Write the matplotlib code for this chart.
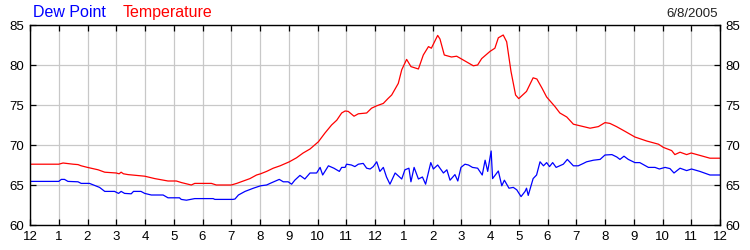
import matplotlib
matplotlib.use("Agg")
import matplotlib.pyplot as plt

# hours since midnight and readings (deg F) for 6/8/2005
temp_hours = [0, 1.0, 1.15, 1.5, 1.67, 1.78, 2.0, 2.37, 2.6, 3.0, 3.1, 3.17, 3.25, 3.41,
              3.99, 4.34, 4.8, 5.09, 5.27, 5.61, 5.73, 6.31, 6.48, 7.0, 7.19, 7.42, 7.65,
              7.88, 8.02, 8.23, 8.46, 8.7, 9.02, 9.27, 9.5, 9.74, 10.03, 10.26, 10.49,
              10.67, 10.84, 10.96, 11.07, 11.27, 11.42, 11.71, 11.88, 12.06, 12.29, 12.45,
              12.58, 12.81, 12.93, 13.1, 13.25, 13.51, 13.68, 13.86, 13.96, 14.18, 14.26,
              14.41, 14.66, 14.84, 15.13, 15.42, 15.57, 15.71, 16.0, 16.17, 16.29, 16.46,
              16.58, 16.73, 16.89, 17.0, 17.27, 17.5, 17.63, 17.81, 17.97, 18.26, 18.43,
              18.67, 18.9, 19.25, 19.48, 19.77, 20.0, 20.17, 20.4, 20.7, 21.04, 21.45,
              21.86, 22.03, 22.32, 22.43, 22.61, 22.84, 23.0, 23.3, 23.65, 24.0]
temp_vals = [67.6, 67.6, 67.75, 67.6, 67.55, 67.4, 67.2, 66.9, 66.6, 66.5, 66.4, 66.6, 66.4, 66.3,
             66.1, 65.8, 65.5, 65.5, 65.3, 65.0, 65.2, 65.2, 65.0, 65.0, 65.2, 65.5, 65.8,
             66.25, 66.4, 66.7, 67.1, 67.4, 67.9, 68.4, 69.0, 69.5, 70.4, 71.5, 72.5,
             73.1, 74.0, 74.25, 74.2, 73.6, 73.9, 74.0, 74.6, 74.9, 75.2, 75.8,
             76.25, 77.7, 79.4, 80.7, 79.8, 79.5, 81.25, 82.3, 82.1, 83.7, 83.25,
             81.25, 81.0, 81.1, 80.5, 79.9, 80.0, 80.8, 81.7, 82.1, 83.4, 83.75,
             82.9, 79.2, 76.25, 75.8, 76.7, 78.4, 78.25, 77.1, 76.0, 74.8, 74.0,
             73.5, 72.6, 72.3, 72.1, 72.3, 72.8, 72.7, 72.3, 71.7, 71.0, 70.5,
             70.1, 69.7, 69.3, 68.8, 69.1, 68.8, 69.0, 68.7, 68.35, 68.35]

dew_hours = [0, 1.0, 1.09, 1.2, 1.32, 1.67, 1.78, 2.07, 2.25, 2.42, 2.6, 2.94, 3.08, 3.17,
             3.29, 3.52, 3.6, 3.86, 3.99, 4.22, 4.63, 4.8, 5.2, 5.26, 5.44, 5.73, 6.37,
             6.43, 7.06, 7.13, 7.25, 7.48, 7.77, 8.02, 8.23, 8.35, 8.67, 8.81, 8.98, 9.1,
             9.21, 9.39, 9.56, 9.74, 9.97, 10.09, 10.18, 10.38, 10.57, 10.76, 10.84, 10.96,
             11.01, 11.18, 11.3, 11.42, 11.59, 11.71, 11.83, 11.94, 12.06, 12.17, 12.29,
             12.4, 12.52, 12.7, 12.93, 13.04, 13.18, 13.25, 13.36, 13.51, 13.65, 13.76,
             13.94, 14.03, 14.18, 14.38, 14.5, 14.61, 14.78, 14.88, 14.99, 15.13, 15.25,
             15.39, 15.57, 15.73, 15.83, 15.92, 16.04, 16.09, 16.29, 16.41, 16.5, 16.66,
             16.81, 16.93, 17.08, 17.22, 17.27, 17.33, 17.5, 17.62, 17.74, 17.86, 17.97,
             18.07, 18.18, 18.3, 18.55, 18.69, 18.9, 19.07, 19.25, 19.36, 19.6, 19.83,
             20.0, 20.24, 20.41, 20.52, 20.66, 20.81, 21.04, 21.21, 21.51, 21.74, 21.89,
             22.09, 22.26, 22.4, 22.61, 22.84, 23.01, 23.3, 23.65, 24.0]
dew_vals = [65.45, 65.45, 65.7, 65.7, 65.45, 65.4, 65.2, 65.2, 64.95, 64.7, 64.2, 64.2, 63.95, 64.2,
            63.95, 63.9, 64.2, 64.2, 63.95, 63.75, 63.75, 63.4, 63.4, 63.2, 63.1, 63.3, 63.3,
            63.2, 63.2, 63.25, 63.75, 64.2, 64.6, 64.9, 65.0, 65.2, 65.7, 65.4, 65.4, 65.1,
            65.6, 66.2, 65.75, 66.5, 66.5, 67.2, 66.25, 67.4, 67.1, 66.7, 67.2, 67.2,
            67.6, 67.5, 67.3, 67.6, 67.7, 67.1, 67.0, 67.3, 67.9, 66.7, 67.2,
            66.0, 65.1, 66.5, 65.75, 66.9, 67.1, 65.4, 67.2, 65.75, 66.0, 65.1,
            67.8, 67.0, 67.5, 66.5, 66.9, 65.6, 66.3, 65.5, 67.2, 67.6, 67.5,
            67.2, 67.1, 66.25, 68.1, 66.7, 69.25, 65.8, 66.75, 64.9, 65.6, 64.6,
            64.7, 64.4, 63.55, 64.2, 64.6, 63.7, 65.8, 66.25, 67.9, 67.4, 67.8,
            67.3, 67.8, 67.2, 67.6, 68.2, 67.4, 67.4, 67.7, 67.9, 68.1, 68.2,
            68.75, 68.8, 68.5, 68.2, 68.6, 68.2, 67.8, 67.8, 67.2, 67.2, 67.0,
            67.2, 67.05, 66.5, 67.1, 66.8, 67.0, 66.7, 66.25, 66.25]

hour_labels = ["12"] + [str(i) for i in range(1, 12)] + ["12"] + [str(i) for i in range(1, 12)] + ["12"]
date_text = "6/8/2005"

plt.rcParams["font.family"] = ["Liberation Sans", "DejaVu Sans"]

fig = plt.figure(figsize=(7.5, 2.5), dpi=100)
ax = fig.add_axes([0.04, 0.1, 0.92, 0.8])

ax.plot(temp_hours, temp_vals, color="#ff0000", lw=0.9)
ax.plot(dew_hours, dew_vals, color="#0000ff", lw=0.9)

ax.set_xlim(0, 24)
ax.set_ylim(60, 85)
ax.set_xticks(range(25))
ax.set_xticklabels(hour_labels)
ax.set_yticks([60, 65, 70, 75, 80, 85])
ax.grid(True, color="#c8c8c8", lw=0.9)
ax.set_axisbelow(True)
ax.tick_params(direction="in", length=4, width=0.9, top=True, right=True,
               labelright=True, labelsize=9.5, pad=4, colors="black")
for s in ax.spines.values():
    s.set_linewidth(1.0)

fig.text(33 / 750, 1 - 17 / 250, "Dew Point", color="#0000ff", fontsize=11.5,
         ha="left", va="baseline")
fig.text(123 / 750, 1 - 17 / 250, "Temperature", color="#ff0000", fontsize=11.5,
         ha="left", va="baseline")
fig.text(718 / 750, 1 - 17 / 250, date_text, color="#202020", fontsize=9.5,
         ha="right", va="baseline")

fig.savefig("out.png", dpi=100)
